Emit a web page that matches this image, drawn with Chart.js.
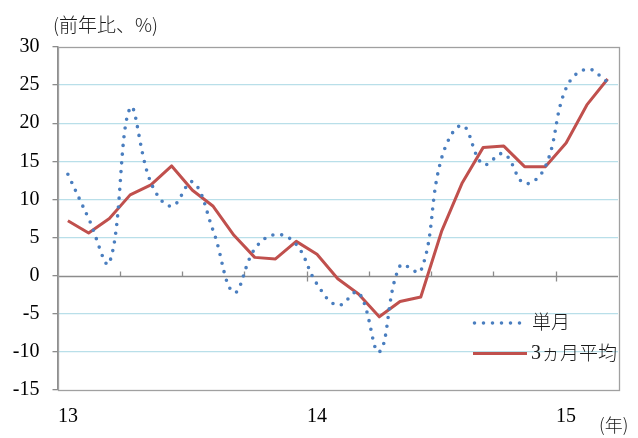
<!DOCTYPE html>
<html>
<head>
<meta charset="utf-8">
<script src="https://cdn.jsdelivr.net/npm/chart.js@4.4.1/dist/chart.umd.min.js"></script>
<style>
  html, body { margin: 0; padding: 0; background: #fff; }
  #wrap { width: 638px; height: 438px; position: relative; }
</style>
</head>
<body>
<div id="wrap"><canvas id="c" width="638" height="438"></canvas></div>
<script>
// Monthly categories, Jan 2013 – Mar 2015
const months = [
  '2013-01','2013-02','2013-03','2013-04','2013-05','2013-06','2013-07','2013-08','2013-09','2013-10','2013-11','2013-12',
  '2014-01','2014-02','2014-03','2014-04','2014-05','2014-06','2014-07','2014-08','2014-09','2014-10','2014-11','2014-12',
  '2015-01','2015-02','2015-03'
];
// Year labels shown under the first month of each year
const yearLabels = ['13', '14', '15'];

// 単月 (single month, y/y %)
const singleMonth = [13.3, 7.5, 1.7, 22.0, 12.2, 9.1, 12.3, 5.9, -2.2, 3.5, 5.4, 4.1,
                     -1.1, -3.9, -2.2, -10.0, 1.3, 0.6, 15.4, 19.7, 14.6, 16.0, 12.1, 14.3,
                     24.6, 27.1, 25.4];
// 3ヵ月平均 (3-month average, y/y %)
const threeMonthAvg = [7.2, 5.6, 7.5, 10.6, 11.9, 14.4, 11.2, 9.1, 5.3, 2.4, 2.2, 4.5,
                       2.8, -0.4, -2.4, -5.4, -3.4, -2.8, 5.8, 12.2, 16.8, 17.0, 14.3, 14.3,
                       17.4, 22.4, 25.8];

const seriesNames = ['単月', '3ヵ月平均'];
const yTitle = '(前年比、%)';
const xUnit = '(年)';

const BLUE = '#4A7EBF';
const RED = '#C0504D';
const GRID = '#B9DFE9';
const AXIS = '#8C8C8C';
const SERIF = '"Liberation Serif", "Times New Roman", serif';
const CJK = '"Noto Sans CJK JP", "Noto Sans", sans-serif';

function yearOf(i) {
  const [y, m] = months[i].split('-');
  return m === '01' ? yearLabels.indexOf(y.slice(2)) : -1;
}

// Axis frame, zero line with quarterly tick marks, and text annotations
const decor = {
  id: 'decor',
  beforeDatasetsDraw(chart) {
    const { ctx, chartArea: a, scales: { x, y } } = chart;
    const half = (x.getPixelForValue(1) - x.getPixelForValue(0)) / 2;
    const y0 = Math.round(y.getPixelForValue(0)) + 0.5;
    ctx.save();
    ctx.strokeStyle = AXIS;
    ctx.lineWidth = 1.3;
    // zero line
    ctx.beginPath();
    ctx.moveTo(a.left, y0);
    ctx.lineTo(a.right, y0);
    ctx.stroke();
    // quarterly tick marks; year boundaries cross the axis
    for (let k = 3; k < months.length; k += 3) {
      const px = Math.round(x.getPixelForValue(k) - half) + 0.5;
      const crossing = months[k].endsWith('-01');
      ctx.beginPath();
      ctx.moveTo(px, y0 - 5);
      ctx.lineTo(px, crossing ? y0 + 5 : y0);
      ctx.stroke();
    }
    // frame
    ctx.strokeStyle = '#A0A0A0';
    ctx.strokeRect(Math.round(a.left) + 0.5, Math.round(a.top) + 0.5,
                   Math.round(a.right - a.left), Math.round(a.bottom - a.top));
    ctx.restore();
  },
  afterDraw(chart) {
    const { ctx } = chart;
    ctx.save();
    ctx.fillStyle = '#1a1a1a';
    ctx.textBaseline = 'middle';
    // y-axis unit
    ctx.font = '300 19px ' + CJK;
    ctx.fillText(yTitle, 53, 25);
    // x-axis unit
    ctx.font = '300 18px ' + CJK;
    ctx.fillText(xUnit, 599, 425);

    // legend: 単月
    ctx.strokeStyle = BLUE;
    ctx.lineWidth = 3.6;
    ctx.lineCap = 'round';
    ctx.setLineDash([0, 9]);
    ctx.beginPath();
    ctx.moveTo(474.5, 323);
    ctx.lineTo(522, 323);
    ctx.stroke();
    ctx.setLineDash([]);
    ctx.font = '300 19px ' + CJK;
    ctx.fillText(seriesNames[0], 532, 322);

    // legend: 3ヵ月平均
    ctx.strokeStyle = RED;
    ctx.lineWidth = 3;
    ctx.lineCap = 'butt';
    ctx.beginPath();
    ctx.moveTo(473, 353.5);
    ctx.lineTo(527, 353.5);
    ctx.stroke();
    ctx.font = '20px ' + SERIF;
    ctx.fillText(seriesNames[1].charAt(0), 531, 354);
    ctx.font = '300 19px ' + CJK;
    ctx.fillText(seriesNames[1].slice(1), 541, 353);
    ctx.restore();
  }
};

new Chart(document.getElementById('c'), {
  type: 'line',
  data: {
    labels: months,
    datasets: [
      {
        label: seriesNames[0],
        data: singleMonth,
        borderColor: BLUE,
        borderWidth: 3.6,
        borderDash: [0, 8.8],
        borderCapStyle: 'round',
        tension: 0.4,
        pointRadius: 0,
        fill: false,
        order: 1
      },
      {
        label: seriesNames[1],
        data: threeMonthAvg,
        borderColor: RED,
        borderWidth: 3,
        borderJoinStyle: 'round',
        tension: 0,
        pointRadius: 0,
        fill: false,
        order: 2
      }
    ]
  },
  options: {
    responsive: false,
    animation: false,
    devicePixelRatio: 1,
    layout: { padding: { top: 47, right: 20, left: 0, bottom: 0 } },
    plugins: { legend: { display: false }, tooltip: { enabled: false } },
    scales: {
      x: {
        type: 'category',
        offset: true,
        grid: { display: false, drawTicks: false },
        border: { display: false },
        ticks: {
          autoSkip: false,
          maxRotation: 0,
          padding: 15,
          color: '#000',
          font: { family: SERIF, size: 20 },
          callback: (v, i) => { const k = yearOf(i); return k >= 0 ? yearLabels[k] : ''; }
        },
        afterFit: (s) => { s.height = 48; }
      },
      y: {
        min: -15,
        max: 30,
        ticks: {
          stepSize: 5,
          padding: 13,
          color: '#000',
          font: { family: SERIF, size: 20 }
        },
        grid: {
          color: (c) => (c.tick && [0, 30, -15].includes(c.tick.value)) ? 'rgba(0,0,0,0)' : GRID,
          lineWidth: 1.3,
          tickColor: AXIS,
          tickLength: 5
        },
        border: { display: true, color: AXIS, width: 1.5 },
        afterFit: (s) => { s.width = 57.5; }
      }
    }
  },
  plugins: [decor]
});
</script>
</body>
</html>
